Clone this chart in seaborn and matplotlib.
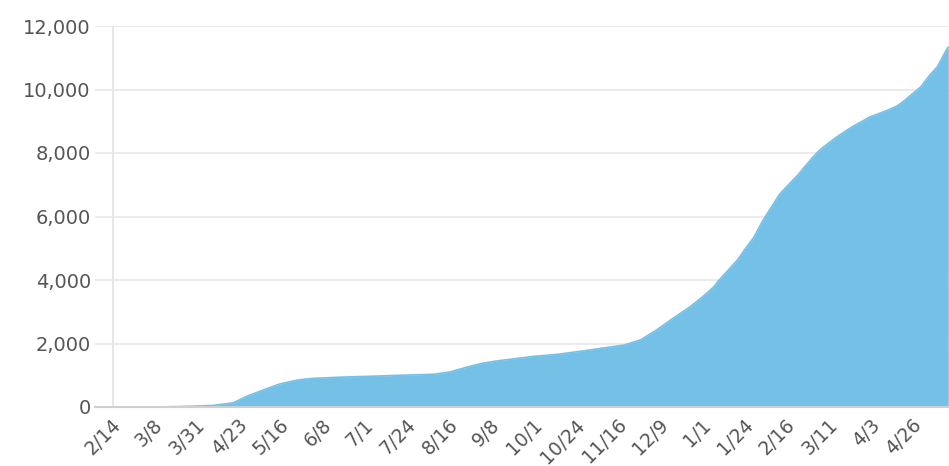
import numpy as np
import pandas as pd
import matplotlib
matplotlib.use("Agg")
import matplotlib.pyplot as plt
import matplotlib.transforms as mtransforms
import seaborn as sns

# cumulative totals (m/d/yyyy)
dates = [
    "2/14/2020", "3/7/2020", "3/25/2020", "4/7/2020", "4/18/2020", "4/25/2020",
    "5/4/2020", "5/13/2020", "5/23/2020", "5/31/2020", "6/14/2020", "6/21/2020",
    "7/9/2020", "7/18/2020", "8/5/2020", "8/14/2020", "8/23/2020", "9/1/2020",
    "9/10/2020", "9/20/2020", "9/28/2020", "10/12/2020", "10/30/2020",
    "11/17/2020", "11/26/2020", "12/5/2020", "12/14/2020", "12/23/2020",
    "12/30/2020", "1/5/2021", "1/8/2021", "1/18/2021", "1/23/2021", "1/27/2021",
    "2/1/2021", "2/5/2021", "2/10/2021", "2/14/2021", "2/20/2021", "2/23/2021",
    "2/28/2021", "3/4/2021", "3/10/2021", "3/13/2021", "3/19/2021", "3/22/2021",
    "3/28/2021", "3/31/2021", "4/6/2021", "4/10/2021", "4/15/2021", "4/18/2021",
    "4/24/2021", "4/28/2021", "5/3/2021", "5/7/2021", "5/12/2021", "5/13/2021",
]
totals = [
    0, 0, 20, 50, 130, 330,
    530, 720, 850, 900, 935, 950,
    980, 1000, 1030, 1100, 1250, 1380,
    1460, 1530, 1590, 1660, 1800,
    1950, 2110, 2430, 2800, 3150,
    3470, 3780, 4000, 4630, 5040, 5350,
    5890, 6250, 6700, 6950, 7310, 7520,
    7860, 8100, 8370, 8500, 8730, 8840,
    9030, 9130, 9260, 9350, 9480, 9600,
    9890, 10080, 10460, 10710, 11250, 11340,
]

tick_start = "2/14/2020"
n_ticks = 20
tick_step_days = 23
y_ticks = [0, 2000, 4000, 6000, 8000, 10000, 12000]

df = pd.DataFrame({"date": pd.to_datetime(dates, format="%m/%d/%Y"), "total": totals})

fill_color = "#74c0e6"
text_color = "#555555"

sns.set_style("white")
plt.rcParams["font.family"] = ["DejaVu Sans"]

fig = plt.figure(figsize=(9.49, 4.66), dpi=100)
ax = fig.add_axes([95 / 949, 59 / 466, 854 / 949, 381 / 466])

sns.lineplot(data=df, x="date", y="total", ax=ax, color=fill_color, linewidth=1.2)
ax.fill_between(df["date"], 0, df["total"], color=fill_color, linewidth=0)

start = pd.to_datetime(tick_start, format="%m/%d/%Y")
ax.set_xlim(start - pd.Timedelta(days=11.5), start + pd.Timedelta(days=454.4))
ax.set_ylim(0, 12000)

# light vertical axis line just left of the first bar
ax.plot([start - pd.Timedelta(days=1.6)] * 2, [0, 12000], color="#e2e2e2", lw=1.2, zorder=0)

ticks = pd.date_range(start, periods=n_ticks, freq=f"{tick_step_days}D")
ax.set_xticks(ticks)
ax.set_xticklabels([f"{d.month}/{d.day}" for d in ticks])
ax.set_yticks(y_ticks)
ax.set_yticklabels([f"{v:,}" for v in y_ticks])

ax.grid(axis="y", color="#e8e8e8", linewidth=1.2)
ax.grid(axis="x", visible=False)
ax.set_axisbelow(True)
for side in ["left", "right", "top"]:
    ax.spines[side].set_visible(False)
ax.spines["bottom"].set_color("#cfcfcf")
ax.spines["bottom"].set_linewidth(1.5)
ax.spines["bottom"].set_zorder(5)

ax.tick_params(axis="both", length=0, labelcolor=text_color)
ax.tick_params(axis="y", pad=3, labelsize=14)
ax.tick_params(axis="x", pad=6, labelsize=13.5)
offset = mtransforms.ScaledTranslation(-5 / 100, 0, fig.dpi_scale_trans)
for lab in ax.get_xticklabels():
    lab.set_rotation(45)
    lab.set_ha("right")
    lab.set_va("top")
    lab.set_rotation_mode("anchor")
    lab.set_transform(lab.get_transform() + offset)

ax.set_xlabel("")
ax.set_ylabel("")

fig.savefig("out.png", dpi=100)
